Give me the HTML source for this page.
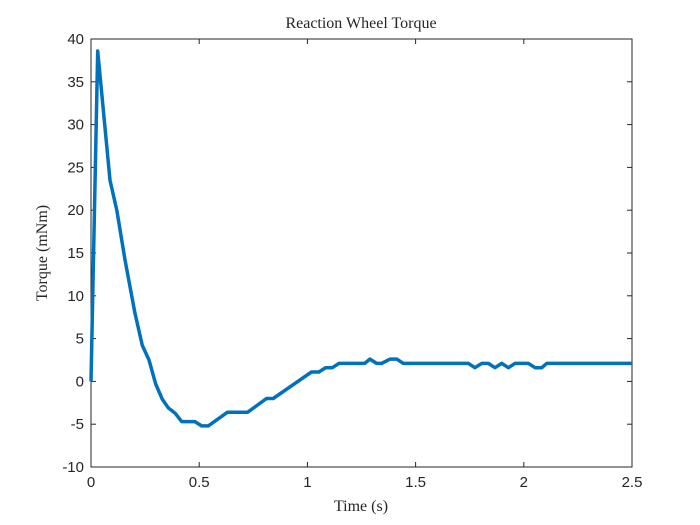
<!DOCTYPE html>
<html><head><meta charset="utf-8"><style>
body{margin:0;background:#fff;width:700px;height:525px;overflow:hidden}
svg{display:block}
.tick{font-family:"Liberation Sans",sans-serif;font-size:15px;fill:#262626}
.lbl{font-family:"Liberation Serif",serif;font-size:16px;fill:#262626}
</style></head><body>
<svg id="chart" width="700" height="525" viewBox="0 0 700 525">
<rect x="0" y="0" width="700" height="525" fill="#fff"/>
<g id="axes"></g>
<path id="series" fill="none" stroke="#0072BD" stroke-width="3.5" stroke-linejoin="round"/>
<text class="lbl" x="361" y="28" text-anchor="middle">Reaction Wheel Torque</text>
<text class="lbl" x="361" y="511" text-anchor="middle">Time (s)</text>
<text class="lbl" transform="translate(47,253) rotate(-90)" text-anchor="middle">Torque (mNm)</text>
</svg>
<script>
const times=[0,0.031,0.088,0.119,0.157,0.203,0.237,0.268,0.299,0.33,0.357,0.388,0.419,0.48,0.511,0.542,0.631,0.724,0.811,0.842,1.019,1.053,1.084,1.115,1.146,1.265,1.289,1.32,1.343,1.382,1.413,1.443,1.744,1.774,1.806,1.836,1.867,1.898,1.929,1.959,2.021,2.052,2.083,2.106,2.5];
const torque=[0,38.6,23.5,20,14.2,8,4.2,2.5,-0.3,-2.1,-3.1,-3.7,-4.7,-4.7,-5.2,-5.2,-3.6,-3.6,-2.0,-2.0,1.1,1.1,1.6,1.6,2.1,2.1,2.6,2.1,2.1,2.6,2.6,2.1,2.1,1.6,2.1,2.1,1.6,2.1,1.6,2.1,2.1,1.6,1.6,2.1,2.1];
const xTicks=[0,0.5,1,1.5,2,2.5];
const xTickLabels=["0","0.5","1","1.5","2","2.5"];
const yTicks=[-10,-5,0,5,10,15,20,25,30,35,40];
const yTickLabels=["-10","-5","0","5","10","15","20","25","30","35","40"];
const L=91,R=632,T=39,B=467,xmin=0,xmax=2.5,ymin=-10,ymax=40;
const sx=v=>L+(v-xmin)/(xmax-xmin)*(R-L);
const sy=v=>B-(v-ymin)/(ymax-ymin)*(B-T);
const NS="http://www.w3.org/2000/svg";
const ax=document.getElementById('axes');
function mk(tag,attrs){const e=document.createElementNS(NS,tag);for(const k in attrs)e.setAttribute(k,attrs[k]);return e;}
const box=mk('rect',{x:L,y:T,width:R-L,height:B-T,fill:'none',stroke:'#262626','stroke-width':1});


ax.appendChild(box);
xTicks.forEach((v,i)=>{const x=sx(v);
 const t1=mk('line',{x1:x,x2:x,y1:B,y2:B-5,stroke:'#262626'});
 
 
 ax.appendChild(t1);
 const t2=mk('line',{x1:x,x2:x,y1:T,y2:T+5,stroke:'#262626'});
 
 
 ax.appendChild(t2);
 const tx=mk('text',{x:x,y:B+20,'text-anchor':'middle',class:'tick'});tx.textContent=xTickLabels[i];
 
 
 ax.appendChild(tx);});
yTicks.forEach((v,i)=>{const y=sy(v);
 const t1=mk('line',{x1:L,x2:L+5,y1:y,y2:y,stroke:'#262626'});
 
 
 ax.appendChild(t1);
 const t2=mk('line',{x1:R,x2:R-5,y1:y,y2:y,stroke:'#262626'});
 
 
 ax.appendChild(t2);
 const tx=mk('text',{x:L-7,y:y+5,'text-anchor':'end',class:'tick'});tx.textContent=yTickLabels[i];
 
 
 ax.appendChild(tx);});
document.getElementById('series').setAttribute('d',times.map((t,i)=>(i?'L':'M')+sx(t).toFixed(1)+','+sy(torque[i]).toFixed(1)).join(''));
</script>
</body></html>
